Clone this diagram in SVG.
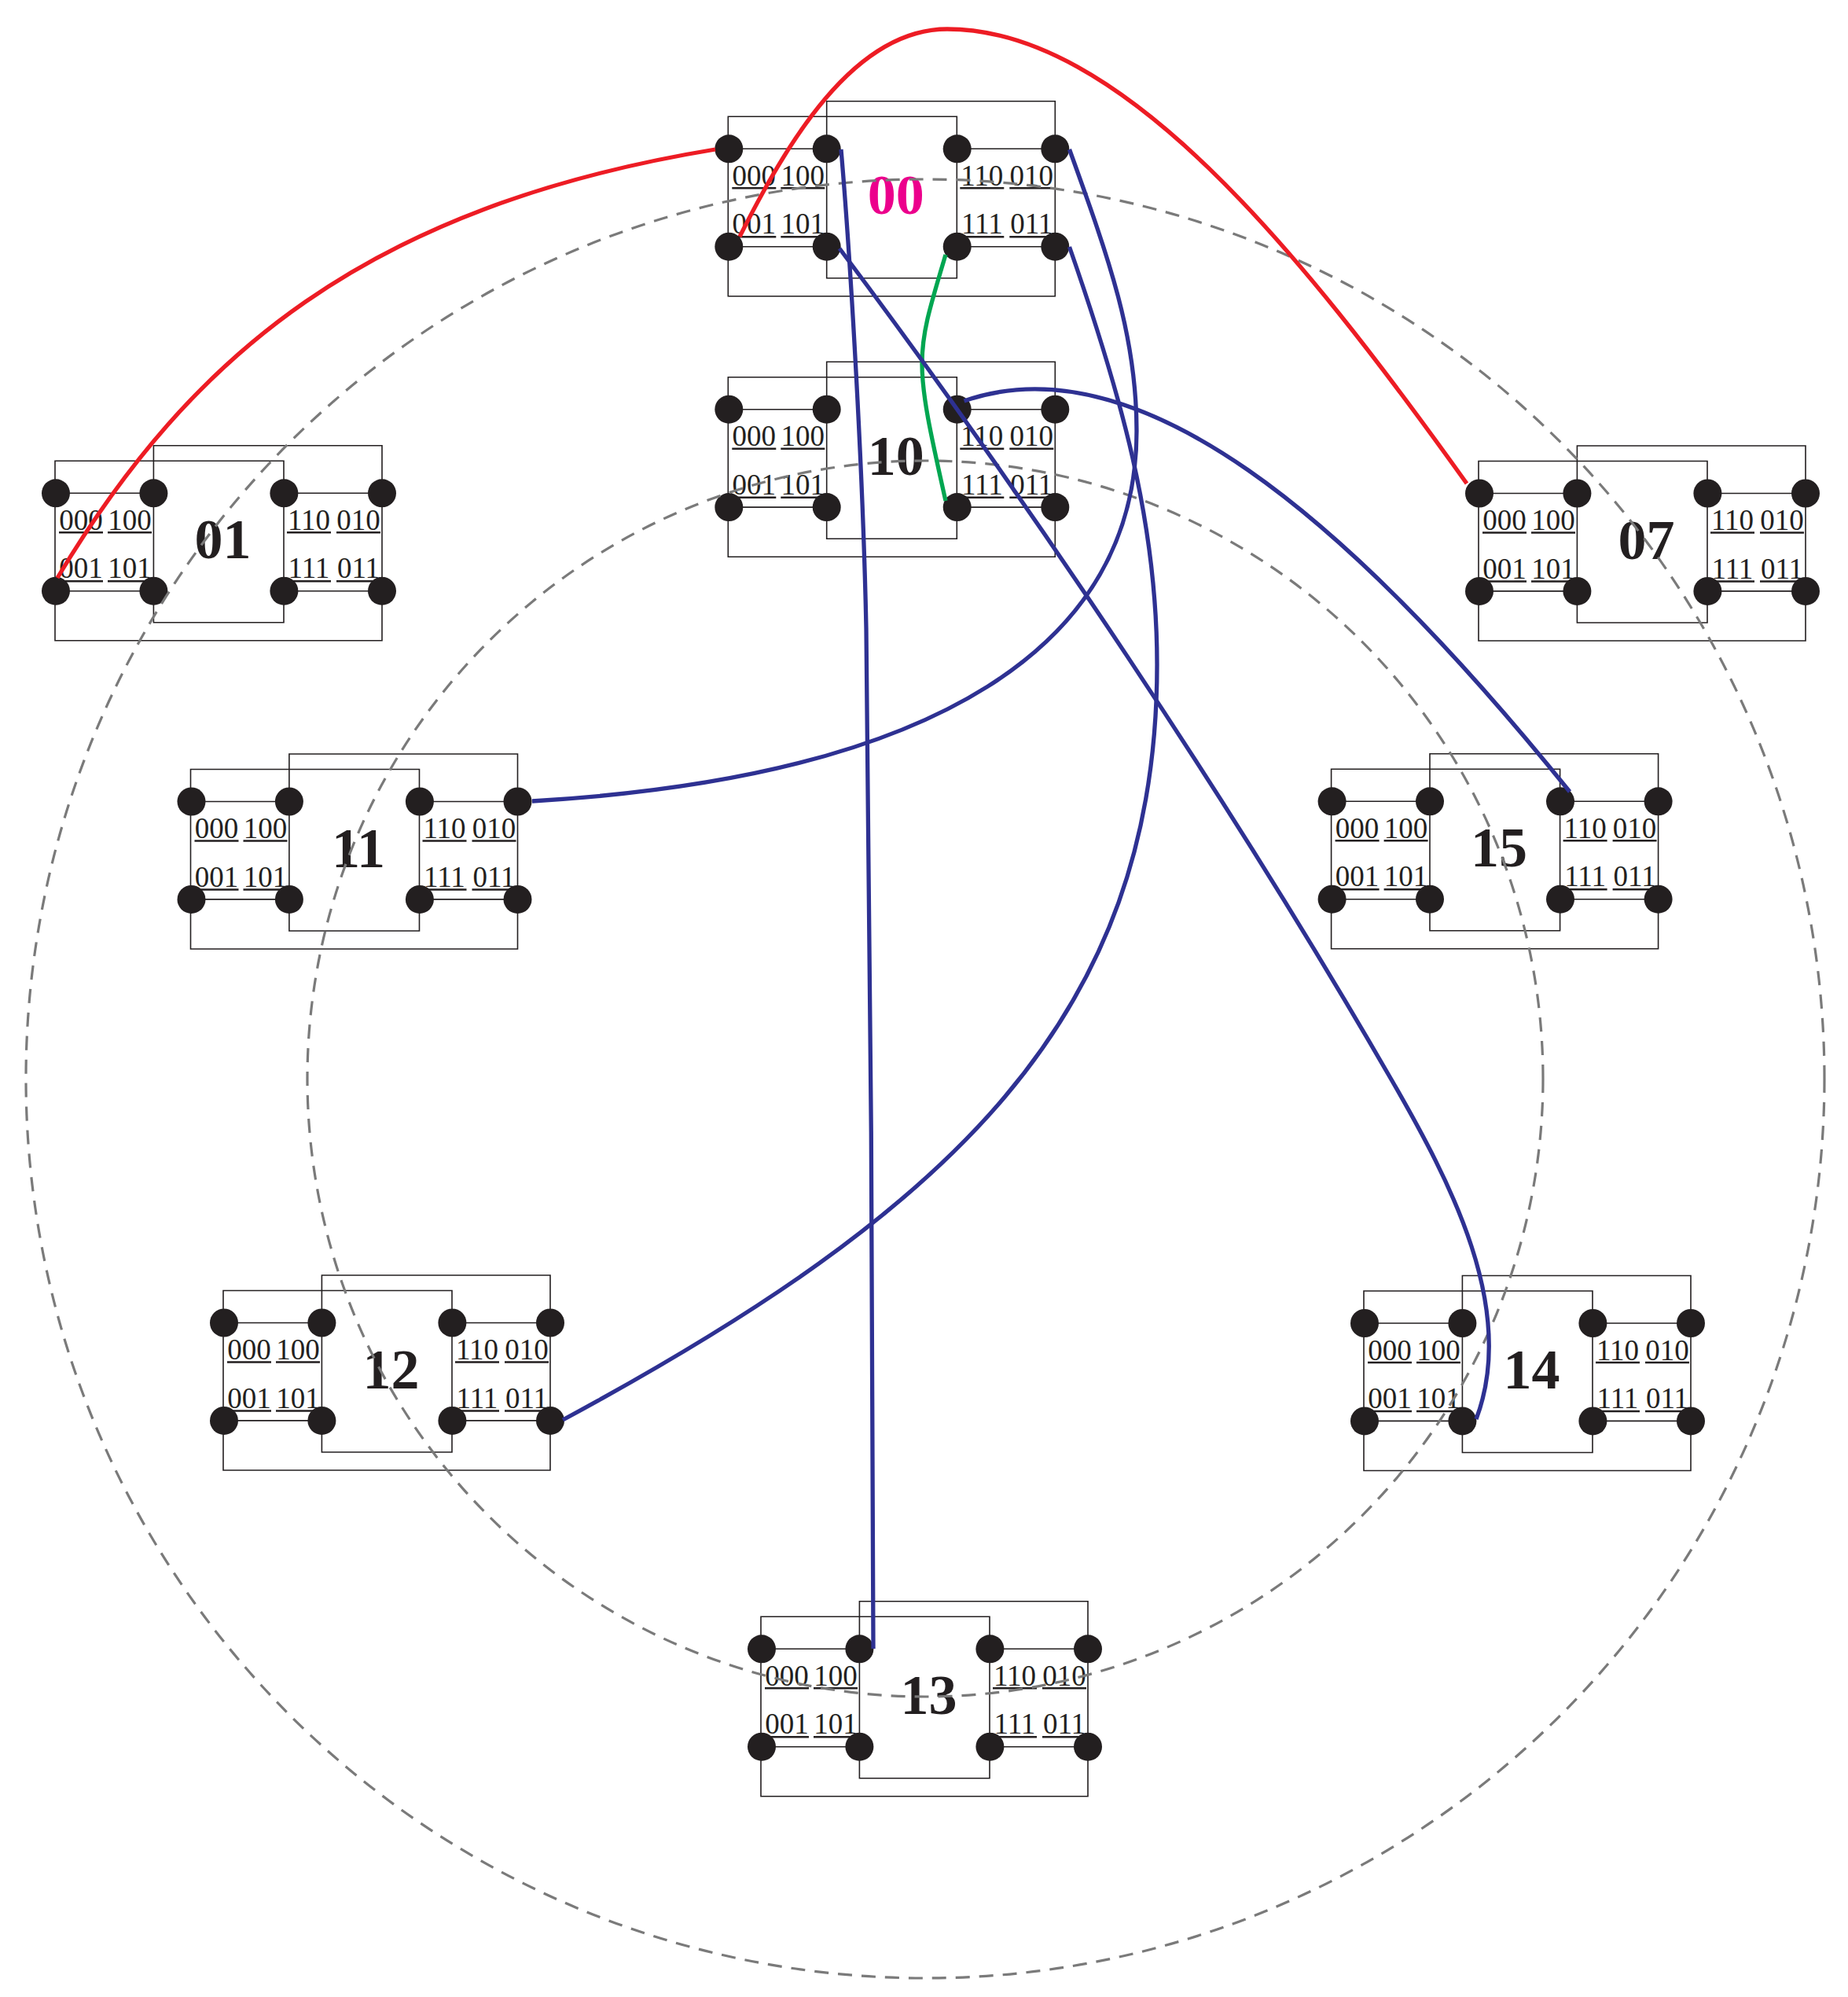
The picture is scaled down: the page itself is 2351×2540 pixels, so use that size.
<svg xmlns="http://www.w3.org/2000/svg" width="2351" height="2540" viewBox="0 0 2351 2540">
<style>
.frame{fill:none;stroke:#231F20;stroke-width:1.6}
.link{fill:none;stroke:#231F20;stroke-width:1.6}
.ul{fill:none;stroke:#231F20;stroke-width:2.4}
.dot{fill:#231F20}
.bits{font-family:"Liberation Serif","Times New Roman",serif;font-size:37px;fill:#231F20;text-anchor:middle}
.lbl{font-family:"Liberation Serif","Times New Roman",serif;font-size:72px;font-weight:bold;fill:#231F20;text-anchor:middle}
.ring{fill:none;stroke:#7A7A7A;stroke-width:3.2;stroke-dasharray:18 12}
.con{fill:none;stroke-width:5.3}
.red{stroke:#ED1C24}
.blue{stroke:#2E3192}
.green{stroke:#00A651}
</style>
<rect width="2351" height="2540" fill="#FFFFFF"/>

<g id="node-00" transform="translate(927.3,189.3)">
<path class="frame" d="M-1,-41 H290 V164.5 H124.4 V-60.5 H415 V187.5 H-1 Z"/>
<path class="link" d="M0,0 H124.4 M290.4,0 H415 M0,124.4 H124.4 M290.4,124.4 H415"/>
<path class="ul" d="M4,50 H60 M66,50 H122 M294,50 H350 M357,50 H413 M4,112 H60 M66,112 H122 M294,112 H350 M357,112 H413"/>
<circle class="dot" cx="0" cy="0" r="18"/><circle class="dot" cx="124.4" cy="0" r="18"/><circle class="dot" cx="290.4" cy="0" r="18"/><circle class="dot" cx="415" cy="0" r="18"/>
<circle class="dot" cx="0" cy="124.4" r="18"/><circle class="dot" cx="124.4" cy="124.4" r="18"/><circle class="dot" cx="290.4" cy="124.4" r="18"/><circle class="dot" cx="415" cy="124.4" r="18"/>
<text class="bits" x="32" y="46.5">000</text><text class="bits" x="94" y="46.5">100</text><text class="bits" x="322" y="46.5">110</text><text class="bits" x="385" y="46.5">010</text>
<text class="bits" x="32" y="108">001</text><text class="bits" x="94" y="108">101</text><text class="bits" x="322" y="108">111</text><text class="bits" x="385" y="108">011</text>
<text class="lbl" x="212.5" y="83" style="fill:#EC008C">00</text>
</g>

<g id="node-10" transform="translate(927.3,520.7)">
<path class="frame" d="M-1,-41 H290 V164.5 H124.4 V-60.5 H415 V187.5 H-1 Z"/>
<path class="link" d="M0,0 H124.4 M290.4,0 H415 M0,124.4 H124.4 M290.4,124.4 H415"/>
<path class="ul" d="M4,50 H60 M66,50 H122 M294,50 H350 M357,50 H413 M4,112 H60 M66,112 H122 M294,112 H350 M357,112 H413"/>
<circle class="dot" cx="0" cy="0" r="18"/><circle class="dot" cx="124.4" cy="0" r="18"/><circle class="dot" cx="290.4" cy="0" r="18"/><circle class="dot" cx="415" cy="0" r="18"/>
<circle class="dot" cx="0" cy="124.4" r="18"/><circle class="dot" cx="124.4" cy="124.4" r="18"/><circle class="dot" cx="290.4" cy="124.4" r="18"/><circle class="dot" cx="415" cy="124.4" r="18"/>
<text class="bits" x="32" y="46.5">000</text><text class="bits" x="94" y="46.5">100</text><text class="bits" x="322" y="46.5">110</text><text class="bits" x="385" y="46.5">010</text>
<text class="bits" x="32" y="108">001</text><text class="bits" x="94" y="108">101</text><text class="bits" x="322" y="108">111</text><text class="bits" x="385" y="108">011</text>
<text class="lbl" x="212.5" y="83">10</text>
</g>

<g id="node-01" transform="translate(71,627.3)">
<path class="frame" d="M-1,-41 H290 V164.5 H124.4 V-60.5 H415 V187.5 H-1 Z"/>
<path class="link" d="M0,0 H124.4 M290.4,0 H415 M0,124.4 H124.4 M290.4,124.4 H415"/>
<path class="ul" d="M4,50 H60 M66,50 H122 M294,50 H350 M357,50 H413 M4,112 H60 M66,112 H122 M294,112 H350 M357,112 H413"/>
<circle class="dot" cx="0" cy="0" r="18"/><circle class="dot" cx="124.4" cy="0" r="18"/><circle class="dot" cx="290.4" cy="0" r="18"/><circle class="dot" cx="415" cy="0" r="18"/>
<circle class="dot" cx="0" cy="124.4" r="18"/><circle class="dot" cx="124.4" cy="124.4" r="18"/><circle class="dot" cx="290.4" cy="124.4" r="18"/><circle class="dot" cx="415" cy="124.4" r="18"/>
<text class="bits" x="32" y="46.5">000</text><text class="bits" x="94" y="46.5">100</text><text class="bits" x="322" y="46.5">110</text><text class="bits" x="385" y="46.5">010</text>
<text class="bits" x="32" y="108">001</text><text class="bits" x="94" y="108">101</text><text class="bits" x="322" y="108">111</text><text class="bits" x="385" y="108">011</text>
<text class="lbl" x="212.5" y="83">01</text>
</g>

<g id="node-07" transform="translate(1882,627.5)">
<path class="frame" d="M-1,-41 H290 V164.5 H124.4 V-60.5 H415 V187.5 H-1 Z"/>
<path class="link" d="M0,0 H124.4 M290.4,0 H415 M0,124.4 H124.4 M290.4,124.4 H415"/>
<path class="ul" d="M4,50 H60 M66,50 H122 M294,50 H350 M357,50 H413 M4,112 H60 M66,112 H122 M294,112 H350 M357,112 H413"/>
<circle class="dot" cx="0" cy="0" r="18"/><circle class="dot" cx="124.4" cy="0" r="18"/><circle class="dot" cx="290.4" cy="0" r="18"/><circle class="dot" cx="415" cy="0" r="18"/>
<circle class="dot" cx="0" cy="124.4" r="18"/><circle class="dot" cx="124.4" cy="124.4" r="18"/><circle class="dot" cx="290.4" cy="124.4" r="18"/><circle class="dot" cx="415" cy="124.4" r="18"/>
<text class="bits" x="32" y="46.5">000</text><text class="bits" x="94" y="46.5">100</text><text class="bits" x="322" y="46.5">110</text><text class="bits" x="385" y="46.5">010</text>
<text class="bits" x="32" y="108">001</text><text class="bits" x="94" y="108">101</text><text class="bits" x="322" y="108">111</text><text class="bits" x="385" y="108">011</text>
<text class="lbl" x="212.5" y="83">07</text>
</g>

<g id="node-11" transform="translate(243.5,1019.5)">
<path class="frame" d="M-1,-41 H290 V164.5 H124.4 V-60.5 H415 V187.5 H-1 Z"/>
<path class="link" d="M0,0 H124.4 M290.4,0 H415 M0,124.4 H124.4 M290.4,124.4 H415"/>
<path class="ul" d="M4,50 H60 M66,50 H122 M294,50 H350 M357,50 H413 M4,112 H60 M66,112 H122 M294,112 H350 M357,112 H413"/>
<circle class="dot" cx="0" cy="0" r="18"/><circle class="dot" cx="124.4" cy="0" r="18"/><circle class="dot" cx="290.4" cy="0" r="18"/><circle class="dot" cx="415" cy="0" r="18"/>
<circle class="dot" cx="0" cy="124.4" r="18"/><circle class="dot" cx="124.4" cy="124.4" r="18"/><circle class="dot" cx="290.4" cy="124.4" r="18"/><circle class="dot" cx="415" cy="124.4" r="18"/>
<text class="bits" x="32" y="46.5">000</text><text class="bits" x="94" y="46.5">100</text><text class="bits" x="322" y="46.5">110</text><text class="bits" x="385" y="46.5">010</text>
<text class="bits" x="32" y="108">001</text><text class="bits" x="94" y="108">101</text><text class="bits" x="322" y="108">111</text><text class="bits" x="385" y="108">011</text>
<text class="lbl" x="212.5" y="83">11</text>
</g>

<g id="node-15" transform="translate(1694.6,1019.3)">
<path class="frame" d="M-1,-41 H290 V164.5 H124.4 V-60.5 H415 V187.5 H-1 Z"/>
<path class="link" d="M0,0 H124.4 M290.4,0 H415 M0,124.4 H124.4 M290.4,124.4 H415"/>
<path class="ul" d="M4,50 H60 M66,50 H122 M294,50 H350 M357,50 H413 M4,112 H60 M66,112 H122 M294,112 H350 M357,112 H413"/>
<circle class="dot" cx="0" cy="0" r="18"/><circle class="dot" cx="124.4" cy="0" r="18"/><circle class="dot" cx="290.4" cy="0" r="18"/><circle class="dot" cx="415" cy="0" r="18"/>
<circle class="dot" cx="0" cy="124.4" r="18"/><circle class="dot" cx="124.4" cy="124.4" r="18"/><circle class="dot" cx="290.4" cy="124.4" r="18"/><circle class="dot" cx="415" cy="124.4" r="18"/>
<text class="bits" x="32" y="46.5">000</text><text class="bits" x="94" y="46.5">100</text><text class="bits" x="322" y="46.5">110</text><text class="bits" x="385" y="46.5">010</text>
<text class="bits" x="32" y="108">001</text><text class="bits" x="94" y="108">101</text><text class="bits" x="322" y="108">111</text><text class="bits" x="385" y="108">011</text>
<text class="lbl" x="212.5" y="83">15</text>
</g>

<g id="node-12" transform="translate(285,1682.5)">
<path class="frame" d="M-1,-41 H290 V164.5 H124.4 V-60.5 H415 V187.5 H-1 Z"/>
<path class="link" d="M0,0 H124.4 M290.4,0 H415 M0,124.4 H124.4 M290.4,124.4 H415"/>
<path class="ul" d="M4,50 H60 M66,50 H122 M294,50 H350 M357,50 H413 M4,112 H60 M66,112 H122 M294,112 H350 M357,112 H413"/>
<circle class="dot" cx="0" cy="0" r="18"/><circle class="dot" cx="124.4" cy="0" r="18"/><circle class="dot" cx="290.4" cy="0" r="18"/><circle class="dot" cx="415" cy="0" r="18"/>
<circle class="dot" cx="0" cy="124.4" r="18"/><circle class="dot" cx="124.4" cy="124.4" r="18"/><circle class="dot" cx="290.4" cy="124.4" r="18"/><circle class="dot" cx="415" cy="124.4" r="18"/>
<text class="bits" x="32" y="46.5">000</text><text class="bits" x="94" y="46.5">100</text><text class="bits" x="322" y="46.5">110</text><text class="bits" x="385" y="46.5">010</text>
<text class="bits" x="32" y="108">001</text><text class="bits" x="94" y="108">101</text><text class="bits" x="322" y="108">111</text><text class="bits" x="385" y="108">011</text>
<text class="lbl" x="212.5" y="83">12</text>
</g>

<g id="node-14" transform="translate(1736,1683)">
<path class="frame" d="M-1,-41 H290 V164.5 H124.4 V-60.5 H415 V187.5 H-1 Z"/>
<path class="link" d="M0,0 H124.4 M290.4,0 H415 M0,124.4 H124.4 M290.4,124.4 H415"/>
<path class="ul" d="M4,50 H60 M66,50 H122 M294,50 H350 M357,50 H413 M4,112 H60 M66,112 H122 M294,112 H350 M357,112 H413"/>
<circle class="dot" cx="0" cy="0" r="18"/><circle class="dot" cx="124.4" cy="0" r="18"/><circle class="dot" cx="290.4" cy="0" r="18"/><circle class="dot" cx="415" cy="0" r="18"/>
<circle class="dot" cx="0" cy="124.4" r="18"/><circle class="dot" cx="124.4" cy="124.4" r="18"/><circle class="dot" cx="290.4" cy="124.4" r="18"/><circle class="dot" cx="415" cy="124.4" r="18"/>
<text class="bits" x="32" y="46.5">000</text><text class="bits" x="94" y="46.5">100</text><text class="bits" x="322" y="46.5">110</text><text class="bits" x="385" y="46.5">010</text>
<text class="bits" x="32" y="108">001</text><text class="bits" x="94" y="108">101</text><text class="bits" x="322" y="108">111</text><text class="bits" x="385" y="108">011</text>
<text class="lbl" x="212.5" y="83">14</text>
</g>

<g id="node-13" transform="translate(969,2097.3)">
<path class="frame" d="M-1,-41 H290 V164.5 H124.4 V-60.5 H415 V187.5 H-1 Z"/>
<path class="link" d="M0,0 H124.4 M290.4,0 H415 M0,124.4 H124.4 M290.4,124.4 H415"/>
<path class="ul" d="M4,50 H60 M66,50 H122 M294,50 H350 M357,50 H413 M4,112 H60 M66,112 H122 M294,112 H350 M357,112 H413"/>
<circle class="dot" cx="0" cy="0" r="18"/><circle class="dot" cx="124.4" cy="0" r="18"/><circle class="dot" cx="290.4" cy="0" r="18"/><circle class="dot" cx="415" cy="0" r="18"/>
<circle class="dot" cx="0" cy="124.4" r="18"/><circle class="dot" cx="124.4" cy="124.4" r="18"/><circle class="dot" cx="290.4" cy="124.4" r="18"/><circle class="dot" cx="415" cy="124.4" r="18"/>
<text class="bits" x="32" y="46.5">000</text><text class="bits" x="94" y="46.5">100</text><text class="bits" x="322" y="46.5">110</text><text class="bits" x="385" y="46.5">010</text>
<text class="bits" x="32" y="108">001</text><text class="bits" x="94" y="108">101</text><text class="bits" x="322" y="108">111</text><text class="bits" x="385" y="108">011</text>
<text class="lbl" x="212.5" y="83">13</text>
</g>

<g id="rings">
<circle class="ring" cx="1177" cy="1372" r="786"/>
<circle class="ring" cx="1177" cy="1372" r="1144"/>
</g>

<g id="connectors">
<path class="con red" d="M910,190 C466,263 243,452 73,735"/>
<path class="con red" d="M941,301 C999.5,185 1085,37 1205,37 C1425,37 1651.4,315.3 1866,615"/>
<path class="con green" d="M1203,324 C1164,454 1162,455 1203,637"/>
<path class="con blue" d="M1070,190 C1082,330 1098,600 1102,800 C1106,1200 1112,1700 1111,2097"/>
<path class="con blue" d="M1360.5,190 C1411.5,331 1446,428 1446,548 C1446,818 1197,988 677,1019"/>
<path class="con blue" d="M1360.5,314 C1426.5,502.8 1472,665 1472,845 C1472,1295 1208.8,1540 716,1806"/>
<path class="con blue" d="M1226.5,510 C1446.5,433 1713.5,656 1997,1007"/>
<path class="con blue" d="M1068,316 C1308,636 1570,1026.6 1770,1373 C1845,1503 1931,1665 1878,1805"/>
</g>
</svg>
